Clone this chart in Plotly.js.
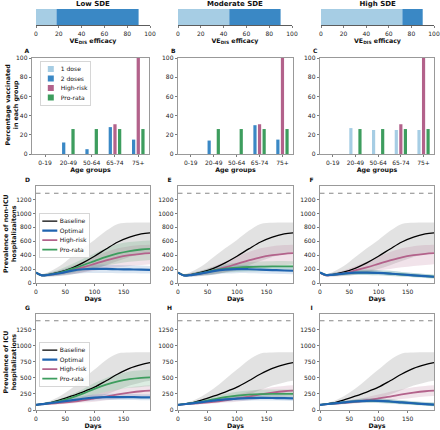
<!DOCTYPE html>
<html><head><meta charset="utf-8">
<script src="https://cdn.plot.ly/plotly-3.0.1.min.js"></script>
<style>
html,body{margin:0;padding:0;background:#fff;overflow:hidden}
#wrap{position:relative;width:440px;height:430px;overflow:hidden}
#c{position:absolute;left:0;top:0;width:880px;height:860px;transform:scale(0.5);transform-origin:0 0}
</style>
</head><body><div id="wrap"><div id="c"></div></div>
<script>
// ---------- data ----------
const sdeLabels = ['Low SDE', 'Moderate SDE', 'High SDE'];
const oneDoseUpTo = [18, 45, 72];
const twoDoseUpTo = [90, 90, 90];
const veTicks = [0, 20, 40, 60, 80, 100];

const ageGroups = ['0-19', '20-49', '50-64', '65-74', '75+'];
const A_oneDose = [0, 0, 0, 0, 0];
const A_twoDose = [0, 12, 5, 28, 15];
const B_oneDose = [0, 0, 0, 0, 0];
const B_twoDose = [0, 14, 0, 30, 15];
const C_oneDose = [0, 27, 25, 25, 25];
const C_twoDose = [0, 0, 0, 0, 0];
const highRiskPct = [0, 0, 0, 31, 100];
const proRataPct = [0, 26, 26, 26, 26];

const days = [0, 10, 20, 40, 60, 80, 100, 120, 140, 160, 180, 195];
const nonIcuCapacity = 1290;
const icuCapacity = 1390;

// non-ICU (D, E, F)
const nonBase   = [150,112,118,155,210,290,385,490,590,660,705,722];
const nonBaseLo = [140,95,92,100,120,155,200,255,315,375,420,445];
const nonBaseHi = [160,130,150,240,370,500,620,750,850,865,870,870];
const nonHr   = [150,110,116,140,180,225,275,325,370,400,420,430];
const nonHrLo = [140,95,95,110,130,150,175,200,225,245,260,270];
const nonHrHi = [160,125,140,180,240,305,380,445,500,530,545,550];
const D_opt   = [150,110,115,140,175,198,203,202,198,195,192,188];
const D_optLo = [140,95,95,105,125,140,145,145,142,140,138,135];
const D_optHi = [160,125,140,175,225,255,265,262,258,254,250,245];
const D_pro   = [150,110,118,150,200,255,315,375,425,460,482,490];
const D_proLo = [140,95,98,115,145,180,215,250,280,305,320,330];
const D_proHi = [160,128,145,195,265,345,425,500,560,590,605,610];
const E_opt   = [150,108,112,138,170,192,200,198,192,186,180,176];
const E_optLo = [140,93,93,103,120,135,142,142,138,134,130,126];
const E_optHi = [160,123,135,172,220,250,260,258,250,243,236,230];
const E_pro   = [150,110,115,145,180,205,220,230,236,240,240,238];
const E_proLo = [140,95,96,110,130,148,158,165,170,172,172,170];
const E_proHi = [160,125,138,180,235,270,290,302,310,314,315,312];
const F_opt   = [150,115,118,135,148,150,145,135,122,110,98,90];
const F_optLo = [140,100,100,110,115,115,110,102,92,82,72,65];
const F_optHi = [160,130,140,165,185,190,185,175,160,145,130,120];
const F_pro   = [150,115,118,135,148,150,145,135,122,110,98,90];
const F_proLo = [140,100,100,110,115,115,110,102,92,82,72,65];
const F_proHi = [160,130,140,165,185,190,185,175,160,145,130,120];

// ICU (G, H, I)
const icuBase   = [80,92,106,155,215,280,355,455,560,648,706,738];
const icuBaseLo = [72,80,88,105,125,150,185,240,310,380,430,455];
const icuBaseHi = [88,105,128,210,330,480,630,780,880,895,900,900];
const icuHr   = [80,88,95,110,128,152,180,210,242,270,292,302];
const icuHrLo = [72,78,82,90,100,115,130,150,170,190,210,220];
const icuHrHi = [88,98,110,135,165,200,240,285,325,355,375,385];
const G_opt   = [80,92,102,125,150,175,192,200,202,200,198,196];
const G_optLo = [72,82,88,102,118,135,148,155,157,155,152,150];
const G_optHi = [88,102,118,150,185,218,240,250,252,250,247,245];
const G_pro   = [80,92,104,140,190,255,330,395,445,480,500,508];
const G_proLo = [72,82,90,112,145,190,240,285,320,345,360,368];
const G_proHi = [88,102,120,170,240,325,420,500,560,600,620,628];
const H_opt   = [80,90,100,122,145,165,178,185,188,187,184,180];
const H_optLo = [72,80,86,100,116,130,140,146,148,147,144,140];
const H_optHi = [88,100,116,146,178,205,222,230,234,233,230,226];
const H_pro   = [80,92,103,130,165,200,225,240,248,252,252,250];
const H_proLo = [72,82,89,106,130,155,172,182,188,190,190,188];
const H_proHi = [88,102,118,158,205,250,285,305,315,320,320,318];
const I_opt   = [80,90,100,118,135,143,142,132,118,105,93,85];
const I_optLo = [72,80,86,98,108,112,110,100,88,76,66,60];
const I_optHi = [88,100,115,140,165,178,178,168,152,138,124,115];
const I_pro   = [80,90,100,118,135,143,142,132,118,105,93,85];
const I_proLo = [72,80,86,98,108,112,110,100,88,76,66,60];
const I_proHi = [88,100,115,140,165,178,178,168,152,138,124,115];

// ---------- style ----------
const K = 2;                 // drawn at 2x then scaled down by CSS
const W = 440, H = 430;
const FONT = 'DejaVu Sans, sans-serif';
const col = {light:'#a6cde4', dark:'#3a88c5', base:'#000000', opt:'#1f64b0', hr:'#b3628b', pro:'#3d9d5e'};
const band = {base:'rgba(150,150,150,0.28)', opt:'rgba(31,100,176,0.16)', hr:'rgba(179,98,139,0.18)', pro:'rgba(61,157,94,0.18)'};
function xd(a, b) { return [a / W, b / W]; }
function yd(t, b) { return [1 - b / H, 1 - t / H]; }
function ax(extra) {
  return Object.assign({showline:true, mirror:true, linecolor:'#808080', linewidth:0.8 * K,
    ticks:'outside', ticklen:2.5 * K, tickwidth:0.7 * K, tickcolor:'#444',
    tickfont:{size:6 * K, color:'#222', family:FONT}, showgrid:false, zeroline:false, fixedrange:true}, extra);
}
const titleFont = {size:6.3 * K, color:'#111', family:FONT, weight:'bold'};

const traces = [];
const layout = {width:W * K, height:H * K, margin:{l:0, r:0, t:0, b:0}, paper_bgcolor:'#fff', plot_bgcolor:'#fff',
  font:{family:FONT, size:6 * K}, barmode:'overlay', showlegend:true, annotations:[]};

// ---------- top SDE bars ----------
const topX = [[36,150],[178,292],[321,434]];
for (let i = 0; i < 3; i++) {
  const n = i + 1;
  layout['xaxis' + n] = ax({domain:xd(topX[i][0], topX[i][1]), anchor:'y' + n, range:[0,100], tickvals:veTicks,
    mirror:false, linecolor:'#333',
    title:{text:'VE<sub>DIS</sub> efficacy', font:titleFont, standoff:1 * K}});
  layout['yaxis' + n] = {domain:yd(9, 25), anchor:'x' + n, range:[-0.5, 0.5], visible:false, fixedrange:true};
  traces.push({type:'bar', orientation:'h', y:[0], x:[oneDoseUpTo[i]], base:[0], width:[1],
    marker:{color:col.light, line:{width:0}}, xaxis:'x' + n, yaxis:'y' + n, showlegend:false, hoverinfo:'skip'});
  traces.push({type:'bar', orientation:'h', y:[0], x:[twoDoseUpTo[i] - oneDoseUpTo[i]], base:[oneDoseUpTo[i]], width:[1],
    marker:{color:col.dark, line:{width:0}}, xaxis:'x' + n, yaxis:'y' + n, showlegend:false, hoverinfo:'skip'});
  layout.annotations.push({text:'<b>' + sdeLabels[i] + '</b>', xref:'paper', yref:'paper',
    x:(topX[i][0] + topX[i][1]) / 2 / W, y:1 - 3.5 / H, xanchor:'center', yanchor:'middle', showarrow:false,
    font:{size:7 * K, color:'#111', family:FONT}});
}

// ---------- A, B, C bar panels ----------
const colX = [[32,149],[178,293],[320,434]];
const barSets = [[A_oneDose, A_twoDose], [B_oneDose, B_twoDose], [C_oneDose, C_twoDose]];
const letters1 = ['A','B','C'];
for (let i = 0; i < 3; i++) {
  const n = i + 4;
  layout['xaxis' + n] = ax({domain:xd(colX[i][0], colX[i][1]), anchor:'y' + n, type:'category',
    categoryorder:'array', categoryarray:ageGroups, range:[-0.56, 4.46],
    title:{text:'Age groups', font:titleFont, standoff:2 * K}});
  layout['yaxis' + n] = ax({domain:yd(58, 154), anchor:'x' + n, range:[0, 100], tickvals:[0,20,40,60,80,100]});
  const show = i === 0;
  const specs = [
    {name:'1 dose', y:barSets[i][0], color:col.light, off:-0.27, rank:1},
    {name:'2 doses', y:barSets[i][1], color:col.dark, off:-0.27, rank:2},
    {name:'High-risk', y:highRiskPct, color:col.hr, off:-0.07, rank:3},
    {name:'Pro-rata', y:proRataPct, color:col.pro, off:0.13, rank:4}];
  specs.forEach(s => traces.push({type:'bar', x:ageGroups, y:s.y, name:s.name, width:0.14, offset:s.off,
    marker:{color:s.color, line:{width:0}}, xaxis:'x' + n, yaxis:'y' + n, showlegend:show,
    legend:'legend', legendrank:s.rank, hoverinfo:'skip'}));
  layout.annotations.push({text:'<b>' + letters1[i] + '</b>', xref:'paper', yref:'paper',
    x:(colX[i][0] - 5) / W, y:1 - 51 / H, xanchor:'center', yanchor:'middle', showarrow:false,
    font:{size:6 * K, color:'#111', family:FONT}});
}

// ---------- line panels ----------
function linePanel(n, x0, x1, top, bot, yrange, dtick, cap, S, letter, legId) {
  layout['xaxis' + n] = ax({domain:xd(x0, x1), anchor:'y' + n, range:[0, 195], tickvals:[0,50,100,150],
    title:{text:'Days', font:titleFont, standoff:2 * K}});
  layout['yaxis' + n] = ax({domain:yd(top, bot), anchor:'x' + n, range:yrange, dtick:dtick, tick0:0});
  const xa = 'x' + n, ya = 'y' + n;
  traces.push({x:[days[0], days[days.length - 1]], y:[cap, cap], mode:'lines', line:{color:'#888', width:1.1 * K, dash:'dash'},
    xaxis:xa, yaxis:ya, showlegend:false, hoverinfo:'skip'});
  S.forEach(s => {
    traces.push({x:days, y:s.lo, mode:'lines', line:{width:0, shape:'spline'}, xaxis:xa, yaxis:ya, showlegend:false, hoverinfo:'skip'});
    traces.push({x:days, y:s.hi, mode:'lines', line:{width:0, shape:'spline'}, fill:'tonexty', fillcolor:s.band,
      xaxis:xa, yaxis:ya, showlegend:false, hoverinfo:'skip'});
  });
  S.forEach(s => traces.push({x:days, y:s.m, mode:'lines', name:s.name, line:{color:s.color, width:s.w * K, shape:'spline'},
    xaxis:xa, yaxis:ya, showlegend:!!legId, legend:legId || 'legend', legendrank:s.rank, hoverinfo:'skip'}));
  layout.annotations.push({text:'<b>' + letter + '</b>', xref:'paper', yref:'paper',
    x:(x0 - 8.5) / W, y:1 - (top - 6) / H, xanchor:'center', yanchor:'middle', showarrow:false,
    font:{size:6 * K, color:'#111', family:FONT}});
}
function S4(base, baseLo, baseHi, hr, hrLo, hrHi, pro, proLo, proHi, opt, optLo, optHi) {
  return [
    {name:'Baseline', m:base, lo:baseLo, hi:baseHi, color:col.base, band:band.base, w:1.3, rank:1},
    {name:'High-risk', m:hr, lo:hrLo, hi:hrHi, color:col.hr, band:band.hr, w:1.8, rank:3},
    {name:'Pro-rata', m:pro, lo:proLo, hi:proHi, color:col.pro, band:band.pro, w:1.8, rank:4},
    {name:'Optimal', m:opt, lo:optLo, hi:optHi, color:col.opt, band:band.opt, w:2.2, rank:2}];
}
const lx = [[36,150],[178,293],[320,434]];
const nonR = [0, 1395], icuR = [0, 1495];
linePanel(7, lx[0][0], lx[0][1], 186, 283, nonR, 200, nonIcuCapacity,
  S4(nonBase, nonBaseLo, nonBaseHi, nonHr, nonHrLo, nonHrHi, D_pro, D_proLo, D_proHi, D_opt, D_optLo, D_optHi), 'D', 'legend2');
linePanel(8, lx[1][0], lx[1][1], 186, 283, nonR, 200, nonIcuCapacity,
  S4(nonBase, nonBaseLo, nonBaseHi, nonHr, nonHrLo, nonHrHi, E_pro, E_proLo, E_proHi, E_opt, E_optLo, E_optHi), 'E', null);
linePanel(9, lx[2][0], lx[2][1], 186, 283, nonR, 200, nonIcuCapacity,
  S4(nonBase, nonBaseLo, nonBaseHi, nonHr, nonHrLo, nonHrHi, F_pro, F_proLo, F_proHi, F_opt, F_optLo, F_optHi), 'F', null);
linePanel(10, lx[0][0], lx[0][1], 314, 410, icuR, 250, icuCapacity,
  S4(icuBase, icuBaseLo, icuBaseHi, icuHr, icuHrLo, icuHrHi, G_pro, G_proLo, G_proHi, G_opt, G_optLo, G_optHi), 'G', 'legend3');
linePanel(11, lx[1][0], lx[1][1], 314, 410, icuR, 250, icuCapacity,
  S4(icuBase, icuBaseLo, icuBaseHi, icuHr, icuHrLo, icuHrHi, H_pro, H_proLo, H_proHi, H_opt, H_optLo, H_optHi), 'H', null);
linePanel(12, lx[2][0], lx[2][1], 314, 410, icuR, 250, icuCapacity,
  S4(icuBase, icuBaseLo, icuBaseHi, icuHr, icuHrLo, icuHrHi, I_pro, I_proLo, I_proHi, I_opt, I_optLo, I_optHi), 'I', null);

// y titles
[['Percentage vaccinated<br>in each group', 11, 105], ['Prevalence of non-ICU<br>hospitalizaitons', 9.5, 234],
 ['Prevalence of ICU<br>hospitalizations', 9.5, 362]].forEach(t => layout.annotations.push({
  text:'<b>' + t[0] + '</b>', xref:'paper', yref:'paper', x:t[1] / W, y:1 - t[2] / H, xanchor:'center', yanchor:'middle',
  textangle:-90, showarrow:false, font:{size:6.3 * K, color:'#111', family:FONT}}));

// legends
const legBase = {bgcolor:'rgba(255,255,255,0.85)', bordercolor:'#cccccc', borderwidth:0.8 * K,
  font:{size:6 * K, color:'#111', family:FONT}, xanchor:'left', yanchor:'top', traceorder:'normal', itemwidth:30, tracegroupgap:0};
layout.legend = Object.assign({}, legBase, {x:40 / W, y:1 - 61 / H});
layout.legend2 = Object.assign({}, legBase, {x:39 / W, y:1 - 213 / H});
layout.legend3 = Object.assign({}, legBase, {x:39 / W, y:1 - 342 / H});

Plotly.newPlot('c', traces, layout, {staticPlot:true, displayModeBar:false});
</script></body></html>
